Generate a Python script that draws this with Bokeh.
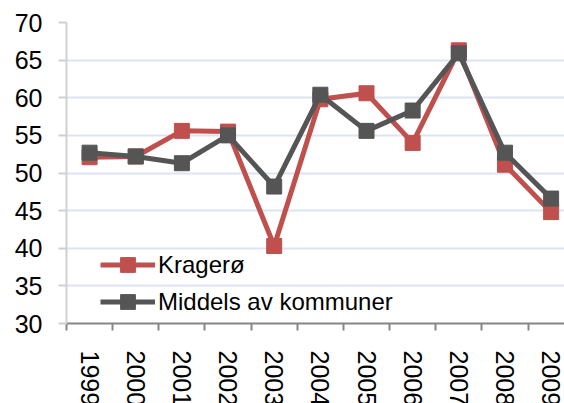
import math
from bokeh.plotting import figure
from bokeh.models import Range1d, FixedTicker, Legend, LegendItem
from bokeh.embed import file_html
from bokeh.resources import INLINE

years = ["1999", "2000", "2001", "2002", "2003", "2004", "2005", "2006", "2007", "2008", "2009"]
kragero = [52.1, 52.2, 55.6, 55.5, 40.3, 59.8, 60.6, 54.0, 66.3, 51.1, 44.8]
middels = [52.7, 52.2, 51.3, 55.0, 48.2, 60.4, 55.6, 58.3, 65.9, 52.7, 46.6]
y_ticks = [30, 35, 40, 45, 50, 55, 60, 65, 70]

RED = "#C0504D"
GRAY = "#555555"
FONT = "Liberation Sans"

xs = [i + 0.5 for i in range(len(years))]

p = figure(frame_width=498, frame_height=301, output_backend="svg", toolbar_location=None,
           x_range=Range1d(0, 10.79), y_range=Range1d(30, 70),
           min_border_left=66, min_border_top=22, min_border_right=0, min_border_bottom=80)
p.outline_line_color = None
p.background_fill_color = "white"
p.border_fill_color = "white"

r1 = p.line(xs, kragero, line_color=RED, line_width=5)
m1 = p.scatter(xs, kragero, marker="square", size=15, fill_color=RED, line_color=RED)
r2 = p.line(xs, middels, line_color=GRAY, line_width=5)
m2 = p.scatter(xs, middels, marker="square", size=15, fill_color=GRAY, line_color=GRAY)

# x axis
xt = FixedTicker(ticks=xs, minor_ticks=list(range(0, 12)))
p.xaxis.ticker = xt
p.xaxis.major_label_overrides = {x: y for x, y in zip(xs, years)}
p.xaxis.major_tick_out = 0
p.xaxis.major_tick_in = 0
p.xaxis.minor_tick_out = 7
p.xaxis.minor_tick_in = 0
p.xaxis.minor_tick_line_color = "#868686"
p.xaxis.minor_tick_line_width = 2
p.xaxis.axis_line_color = "#868686"
p.xaxis.axis_line_width = 2
p.xaxis.major_label_orientation = -math.pi / 2
p.xaxis.major_label_text_font = FONT
p.xaxis.major_label_text_font_size = "25px"
p.xaxis.major_label_text_color = "black"
p.xaxis.major_label_standoff = 20
p.xgrid.grid_line_color = None

# y axis
p.yaxis.ticker = FixedTicker(ticks=y_ticks)
p.yaxis.minor_tick_line_color = None
p.yaxis.major_tick_out = 8
p.yaxis.major_tick_in = 0
p.yaxis.major_tick_line_color = "#D0D0D0"
p.yaxis.major_tick_line_width = 2
p.yaxis.axis_line_color = "#D0D0D0"
p.yaxis.axis_line_width = 2
p.yaxis.major_label_text_font = FONT
p.yaxis.major_label_text_font_size = "25px"
p.yaxis.major_label_text_color = "black"
p.yaxis.major_label_standoff = 16
p.ygrid.grid_line_color = "#DCE4F1"
p.ygrid.grid_line_width = 2

legend = Legend(items=[LegendItem(label="Kragerø", renderers=[r1, m1]),
                       LegendItem(label="Middels av kommuner", renderers=[r2, m2])],
                location=(34, 3), orientation="vertical")
legend.background_fill_alpha = 0
legend.border_line_color = None
legend.padding = 0
legend.margin = 0
legend.glyph_width = 55
legend.glyph_height = 37
legend.label_standoff = 3
legend.spacing = 0
legend.label_text_font = FONT
legend.label_text_font_size = "24px"
legend.label_text_color = "black"
p.add_layout(legend)

open("out.html", "w").write(file_html(p, INLINE))
